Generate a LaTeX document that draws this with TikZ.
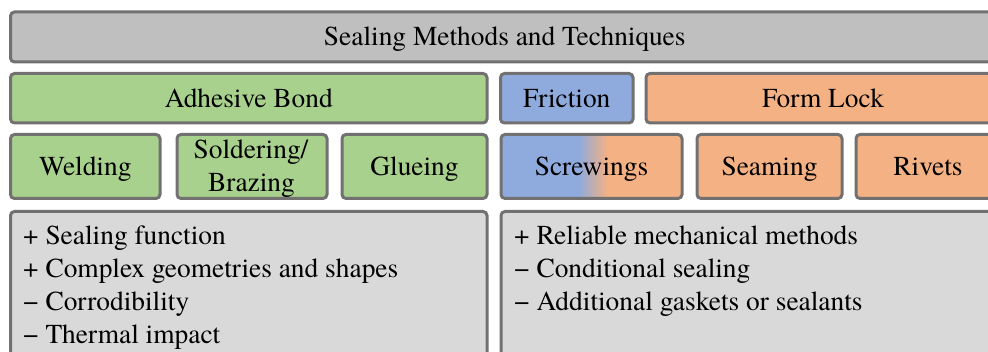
\documentclass[tikz,border=0pt]{standalone}
\usepackage{fontspec}
\setmainfont{texgyretermes}[Extension=.otf, UprightFont=*-regular, BoldFont=*-bold]
\definecolor{bordc}{HTML}{727070}
\definecolor{topg}{HTML}{BFBFBF}
\definecolor{grn}{HTML}{A9D18E}
\definecolor{blu}{HTML}{8FAADC}
\definecolor{org}{HTML}{F4B183}
\definecolor{lgr}{HTML}{D9D9D9}
\begin{document}
\begin{tikzpicture}[x=1pt,y=-1pt,
  box/.style={draw=bordc, line width=3pt, rounded corners=4pt, inner sep=0pt,
    text height=18pt, text depth=0pt, font=\fontsize{27.4}{33}\selectfont, anchor=center},
  txt/.style={inner sep=0pt, font=\fontsize{27.4}{33}\selectfont}]
\path[use as bounding box] (0,0) rectangle (988,352);
\clip (0,0) rectangle (988,352);

% title
\node[box, fill=topg, minimum width=988.5pt, minimum height=50pt] (title) at (504.75,37) {Sealing Methods and Techniques};

% second row
\node[box, fill=grn, minimum width=476.5pt, minimum height=49.5pt] (adh) at (248.75,98.25) {Adhesive Bond};
\node[box, fill=blu, minimum width=132.5pt, minimum height=49.5pt] (fric) at (566.75,98.25) {Friction};
\node[box, fill=org, minimum width=354pt, minimum height=49.5pt] (form) at (823,98.25) {Form Lock};

% third row
\node[box, fill=grn, minimum width=149.5pt, minimum height=64pt] (weld) at (85.25,166.5) {Welding};
\node[box, fill=grn, minimum width=150pt, minimum height=64pt] (solder) at (252,166.5) {};
\node[txt, anchor=base] (sol1) at (251,159) {Soldering/};
\node[txt, anchor=base] (sol2) at (251.5,192) {Brazing};
\node[box, fill=grn, minimum width=145pt, minimum height=64pt] (glue) at (414.5,166.5) {Glueing};

\begin{scope}
  \clip[rounded corners=4pt] (501,134.5) rectangle (682,198.5);
  \fill[blu] (501,134.5) rectangle (579,198.5);
  \shade[left color=blu, right color=org] (578.5,134.5) rectangle (607.5,198.5);
  \fill[org] (607,134.5) rectangle (682,198.5);
\end{scope}
\node[box, minimum width=181pt, minimum height=64pt] (screw) at (591.5,166.5) {Screwings};
\node[box, fill=org, minimum width=145pt, minimum height=64pt] (seam) at (769.5,166.5) {Seaming};
\node[box, fill=org, minimum width=144pt, minimum height=64pt] (rivet) at (928,166.5) {Rivets};

% bottom boxes
\node[box, fill=lgr, minimum width=476.5pt, minimum height=160pt] (procl) at (248.75,291.5) {};
\node[box, fill=lgr, minimum width=499pt, minimum height=160pt] (procr) at (750.5,291.5) {};

\node[txt, anchor=base west] (l1) at (23,245) {+ Sealing function};
\node[txt, anchor=base west] (l2) at (23,278) {+ Complex geometries and shapes};
\node[txt, anchor=base west] (l3) at (23,311) {− Corrodibility};
\node[txt, anchor=base west] (l4) at (23,344) {− Thermal impact};

\node[txt, anchor=base west] (r1) at (514,245) {+ Reliable mechanical methods};
\node[txt, anchor=base west] (r2) at (514,278) {− Conditional sealing};
\node[txt, anchor=base west] (r3) at (514,311) {− Additional gaskets or sealants};
\end{tikzpicture}
\end{document}
